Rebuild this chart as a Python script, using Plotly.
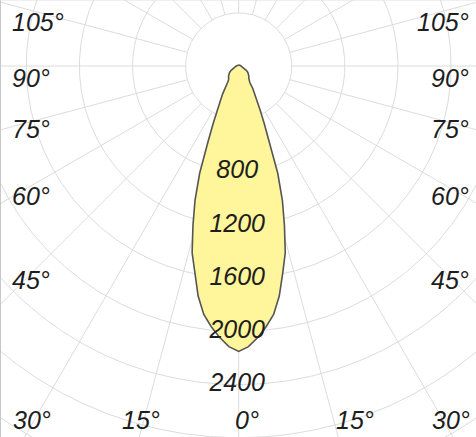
import numpy as np
import plotly.graph_objects as go

# ---------------- data ----------------
# luminous intensity (cd) versus angle from the downward axis (symmetric curve)
ANGLES = [0, 2, 4, 6, 8, 10, 12, 14, 16, 18, 20, 22, 24, 26, 28, 30, 32, 34, 36,
          40, 45, 50, 55, 60, 65, 70, 80, 90, 100, 120, 150, 180]
INTENSITY = [2150, 2115, 2050, 1975, 1890, 1760, 1595, 1450, 1250, 1065, 860, 620,
             470, 365, 290, 240, 200, 150, 130, 118, 108, 98, 84, 66, 50, 38, 25,
             18, 14, 10, 8, 8]

RING_VALUES = [400, 800, 1200, 1600, 2000, 2400, 2800, 3200]
RING_LABELS = ["800", "1200", "1600", "2000", "2400"]
RING_LABEL_VALUES = [800, 1200, 1600, 2000, 2400]
SPOKE_ANGLES = list(range(0, 360, 15))
SIDE_LABELS = ["105°", "90°", "75°", "60°", "45°"]
BOTTOM_LABELS = ["30°", "15°", "0°", "15°", "30°"]

# ---------------- geometry / style ----------------
W, H = 476, 437
CX, CY = 238.7, 66.0            # pole position in pixels
CD_PER_PX = 400 / 53.1          # radial scale
XR = [-CX * CD_PER_PX, (W - CX) * CD_PER_PX]
YR = [-(H - CY) * CD_PER_PX, CY * CD_PER_PX]

GRID = "#dcdcdc"
FILL = "#fff59a"
EDGE = "#555555"
TXT = "#1e1e1e"
FONT = "Liberation Sans, Arial, sans-serif"
FS = 25


def to_xy(theta_deg, r):
    t = np.radians(np.asarray(theta_deg, dtype=float))
    r = np.asarray(r, dtype=float)
    return r * np.sin(t), -r * np.cos(t)


fig = go.Figure()

# rings
rx, ry = [], []
th = np.linspace(0, 360, 721)
for rv in RING_VALUES:
    x, y = to_xy(th, np.full_like(th, rv))
    rx += list(x) + [None]
    ry += list(y) + [None]
fig.add_trace(go.Scatter(x=rx, y=ry, mode="lines", line=dict(color=GRID, width=1),
                         hoverinfo="skip", showlegend=False))

# spokes (start on the innermost ring)
sx, sy = [], []
for a in SPOKE_ANGLES:
    x, y = to_xy([a, a], [RING_VALUES[0], 6000])
    sx += list(x) + [None]
    sy += list(y) + [None]
fig.add_trace(go.Scatter(x=sx, y=sy, mode="lines", line=dict(color=GRID, width=1),
                         hoverinfo="skip", showlegend=False))

# intensity curve (mirrored on both sides)
ang = np.array(ANGLES, dtype=float)
val = np.array(INTENSITY, dtype=float)
full_ang = np.concatenate([-ang[::-1], ang[1:]])
full_val = np.concatenate([val[::-1], val[1:]])
cx_, cy_ = to_xy(full_ang, full_val)
fig.add_trace(go.Scatter(x=cx_, y=cy_, mode="lines", fill="toself", fillcolor=FILL,
                         line=dict(color=EDGE, width=1.6), hoverinfo="skip",
                         showlegend=False))

# ring value labels along the 0° axis
lx, ly = to_xy(np.zeros(len(RING_LABEL_VALUES)), RING_LABEL_VALUES)
fig.add_trace(go.Scatter(x=lx - 1.5 * CD_PER_PX, y=ly, mode="text", text=RING_LABELS,
                         textposition="middle center",
                         textfont=dict(family=FONT, size=FS, color=TXT, style="italic"),
                         hoverinfo="skip", showlegend=False, cliponaxis=False))

# angle labels around the frame
SIDE_Y = [22, 78, 129, 196, 280]
BOTTOM_X = [31.5, 141, 247, 355, 450.5]
ann = []
for lab, py in zip(SIDE_LABELS, SIDE_Y):
    ann.append(dict(x=10 / W, y=1 - py / H, xref="paper", yref="paper", text=lab,
                    showarrow=False, xanchor="left", yanchor="middle",
                    font=dict(family=FONT, size=FS, color=TXT, style="italic")))
    ann.append(dict(x=471 / W, y=1 - py / H, xref="paper", yref="paper", text=lab,
                    showarrow=False, xanchor="right", yanchor="middle",
                    font=dict(family=FONT, size=FS, color=TXT, style="italic")))
for lab, px in zip(BOTTOM_LABELS, BOTTOM_X):
    ann.append(dict(x=px / W, y=1 - 420 / H, xref="paper", yref="paper", text=lab,
                    showarrow=False, xanchor="center", yanchor="middle",
                    font=dict(family=FONT, size=FS, color=TXT, style="italic")))

fig.update_layout(
    width=W, height=H,
    margin=dict(l=0, r=0, t=0, b=0),
    paper_bgcolor="white", plot_bgcolor="white",
    xaxis=dict(range=XR, visible=False, fixedrange=True),
    yaxis=dict(range=YR, visible=False, fixedrange=True),
    annotations=ann,
    shapes=[
        dict(type="line", xref="paper", yref="paper", x0=0, x1=0, y0=0, y1=1,
             line=dict(color="#c8c8c8", width=2)),
        dict(type="line", xref="paper", yref="paper", x0=0, x1=1, y0=1, y1=1,
             line=dict(color="#e0e0e0", width=1)),
    ],
)

fig.write_html("out.html", config={"displayModeBar": False},
               post_script="document.body.style.margin='0px';"
                           "document.body.style.overflow='hidden';")
